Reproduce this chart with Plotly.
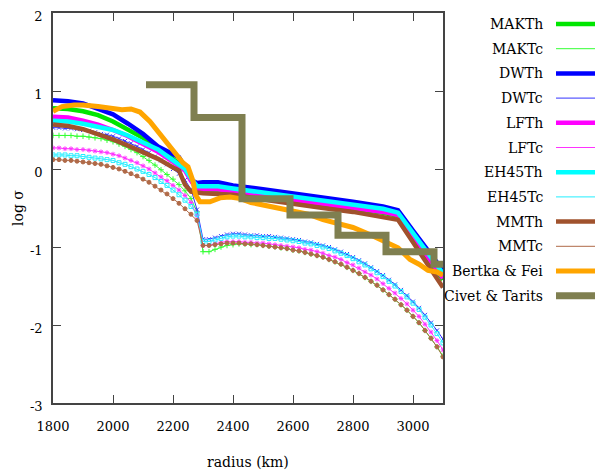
import plotly.graph_objects as go

# ---------------- data ----------------
R_TC = [1800, 1820, 1840, 1860, 1880, 1900, 1920, 1940, 1960, 1980,
        2000, 2020, 2040, 2060, 2080, 2100, 2120, 2140, 2160, 2180,
        2200, 2220, 2240, 2260, 2280, 2300, 2320, 2340, 2360, 2380,
        2400, 2420, 2440, 2460, 2480, 2500, 2520, 2540, 2560, 2580,
        2600, 2620, 2640, 2660, 2680, 2700, 2720, 2740, 2760, 2780,
        2800, 2820, 2840, 2860, 2880, 2900, 2920, 2940, 2960, 2980,
        3000, 3020, 3040, 3060, 3080, 3100]

DWTc = [0.53, 0.53, 0.52, 0.52, 0.51, 0.50, 0.49, 0.47, 0.45, 0.44,
        0.42, 0.39, 0.36, 0.33, 0.29, 0.25, 0.21, 0.16, 0.11, 0.06,
        0.00, -0.06, -0.14, -0.26, -0.52, -0.90, -0.90, -0.88, -0.86, -0.84,
        -0.83, -0.83, -0.84, -0.85, -0.85, -0.86, -0.86, -0.87, -0.88, -0.89,
        -0.90, -0.91, -0.93, -0.94, -0.96, -0.98, -1.00, -1.03, -1.06, -1.09,
        -1.13, -1.17, -1.21, -1.26, -1.31, -1.36, -1.42, -1.48, -1.55, -1.62,
        -1.70, -1.78, -1.87, -1.97, -2.07, -2.18]

EH45Tc = [0.18, 0.18, 0.18, 0.17, 0.17, 0.16, 0.15, 0.14, 0.13, 0.12,
          0.11, 0.08, 0.06, 0.03, 0.00, -0.03, -0.07, -0.11, -0.16, -0.21,
          -0.27, -0.33, -0.40, -0.48, -0.58, -0.93, -0.93, -0.91, -0.89, -0.87,
          -0.86, -0.86, -0.87, -0.87, -0.88, -0.88, -0.89, -0.89, -0.90, -0.91,
          -0.92, -0.93, -0.95, -0.96, -0.98, -1.00, -1.02, -1.05, -1.08, -1.11,
          -1.15, -1.19, -1.23, -1.28, -1.33, -1.38, -1.44, -1.50, -1.57, -1.64,
          -1.72, -1.80, -1.90, -2.00, -2.11, -2.23]

LFTc = [0.27, 0.27, 0.26, 0.26, 0.25, 0.25, 0.24, 0.23, 0.22, 0.21,
        0.19, 0.17, 0.14, 0.11, 0.08, 0.04, 0.00, -0.05, -0.10, -0.15,
        -0.21, -0.27, -0.34, -0.43, -0.60, -0.98, -0.98, -0.96, -0.94, -0.93,
        -0.93, -0.93, -0.94, -0.94, -0.95, -0.95, -0.96, -0.97, -0.98, -0.99,
        -1.00, -1.01, -1.03, -1.04, -1.06, -1.08, -1.11, -1.13, -1.16, -1.20,
        -1.23, -1.27, -1.32, -1.36, -1.41, -1.47, -1.53, -1.59, -1.66, -1.73,
        -1.81, -1.89, -1.99, -2.09, -2.20, -2.32]

MAKTc = [0.43, 0.43, 0.43, 0.43, 0.42, 0.42, 0.41, 0.40, 0.39, 0.37,
         0.35, 0.32, 0.29, 0.25, 0.21, 0.16, 0.11, 0.05, -0.01, -0.07,
         -0.13, -0.20, -0.28, -0.38, -0.55, -1.06, -1.06, -1.03, -1.00, -0.98,
         -0.97, -0.96, -0.96, -0.97, -0.97, -0.98, -0.99, -1.00, -1.01, -1.02,
         -1.04, -1.05, -1.07, -1.09, -1.11, -1.13, -1.16, -1.19, -1.22, -1.26,
         -1.30, -1.34, -1.39, -1.44, -1.49, -1.55, -1.61, -1.67, -1.74, -1.81,
         -1.89, -1.97, -2.07, -2.17, -2.28, -2.40]

MMTc = [0.12, 0.12, 0.11, 0.11, 0.10, 0.09, 0.08, 0.07, 0.06, 0.04,
        0.02, 0.00, -0.03, -0.06, -0.09, -0.13, -0.17, -0.22, -0.27, -0.32,
        -0.38, -0.44, -0.51, -0.58, -0.66, -0.98, -0.98, -0.97, -0.96, -0.95,
        -0.95, -0.95, -0.96, -0.96, -0.97, -0.98, -0.99, -1.00, -1.01, -1.02,
        -1.04, -1.05, -1.07, -1.09, -1.11, -1.13, -1.16, -1.19, -1.22, -1.26,
        -1.30, -1.34, -1.39, -1.44, -1.49, -1.55, -1.61, -1.67, -1.74, -1.81,
        -1.89, -1.97, -2.07, -2.17, -2.28, -2.41]

R_TH = [1800, 1850, 1900, 1950, 2000, 2050, 2100, 2150, 2200, 2220,
        2240, 2260, 2280, 2300, 2350, 2400, 2500, 2600, 2700, 2800,
        2900, 2950, 3000, 3050, 3100]

MAKTh = [0.78, 0.77, 0.74, 0.69, 0.61, 0.51, 0.40, 0.27, 0.13, 0.07,
         0.01, -0.13, -0.27, -0.27, -0.27, -0.30, -0.35, -0.41, -0.46, -0.51,
         -0.56, -0.60, -0.87, -1.14, -1.42]
DWTh = [0.88, 0.87, 0.84, 0.77, 0.70, 0.58, 0.45, 0.29, 0.19, 0.15,
        0.02, -0.14, -0.18, -0.17, -0.17, -0.21, -0.26, -0.31, -0.37, -0.42,
        -0.48, -0.53, -0.79, -1.04, -1.30]
LFTh = [0.67, 0.66, 0.62, 0.57, 0.50, 0.42, 0.32, 0.22, 0.09, 0.04,
        -0.02, -0.15, -0.26, -0.26, -0.26, -0.29, -0.34, -0.40, -0.45, -0.50,
        -0.55, -0.59, -0.86, -1.13, -1.40]
EH45Th = [0.62, 0.61, 0.58, 0.54, 0.50, 0.43, 0.34, 0.25, 0.11, 0.05,
          0.00, -0.12, -0.22, -0.22, -0.22, -0.25, -0.30, -0.35, -0.40, -0.46,
          -0.51, -0.56, -0.82, -1.08, -1.34]
MMTh = [0.57, 0.55, 0.51, 0.45, 0.38, 0.30, 0.22, 0.13, 0.02, -0.02,
        -0.20, -0.29, -0.30, -0.31, -0.32, -0.33, -0.39, -0.45, -0.50, -0.55,
        -0.61, -0.65, -0.94, -1.23, -1.52]

R_BF = [1800, 1830, 1870, 1900, 1950, 2000, 2030, 2060, 2090, 2123,
        2157, 2190, 2233, 2250, 2267, 2275, 2290, 2323, 2357, 2390,
        2425, 2460, 2500, 2550, 2600, 2650, 2700, 2750, 2800, 2850,
        2900, 2950, 2990, 3020, 3050, 3080, 3100]
BertkaFei = [0.74, 0.80, 0.82, 0.82, 0.80, 0.77, 0.76, 0.77, 0.73, 0.61,
             0.44, 0.27, 0.08, 0.03, -0.16, -0.33, -0.42, -0.42, -0.37, -0.36,
             -0.38, -0.43, -0.46, -0.49, -0.54, -0.58, -0.65, -0.70, -0.75, -0.83,
             -0.92, -1.01, -1.16, -1.22, -1.30, -1.32, -1.36]

R_CT = [2110, 2270, 2430, 2590, 2750, 2910, 3070, 3100]
CivetTarits = [1.08, 0.66, -0.38, -0.59, -0.85, -1.06, -1.22, -1.22]

X_TICKS = [1800, 2000, 2200, 2400, 2600, 2800, 3000]
Y_TICKS = [-3, -2, -1, 0, 1, 2]

LEGEND_NAMES = ["MAKTh", "MAKTc", "DWTh", "DWTc", "LFTh", "LFTc",
                "EH45Th", "EH45Tc", "MMTh", "MMTc", "Bertka & Fei", "Civet & Tarits"]

# ---------------- styles ----------------
GREEN = "#00e600"
GREEN_T = "#33ff33"
BLUE = "#0000ff"
BLUE_T = "#3333ff"
MAG = "#ff00ff"
MAG_T = "#ff33ff"
CYAN = "#00ffff"
CYAN_T = "#22eeff"
BROWN = "#a0522d"
BROWN_T = "#b06a48"
ORANGE = "#ffa500"
OLIVE = "#7f7f50"
FONT = "DejaVu Serif"

W, H = 603, 475
OFF = 8                      # page offset of the figure inside the browser window
# wanted plot area on screen: x 53..443, y 13..403
ML, MT = 53 - OFF, 13 - OFF
PW, PH = 390, 390
MR, MB = W - ML - PW, H - MT - PH

def px_x(p):   # screen pixel -> paper x
    return (p - OFF - ML) / PW

def px_y(p):   # screen pixel (from top) -> paper y
    return (MT + PH - (p - OFF)) / PH

styles = {
    "MAKTh": dict(color=GREEN, width=4.5, symbol=None),
    "MAKTc": dict(color=GREEN_T, width=1, symbol="cross-thin"),
    "DWTh": dict(color=BLUE, width=4.5, symbol=None),
    "DWTc": dict(color=BLUE_T, width=1, symbol="x-thin"),
    "LFTh": dict(color=MAG, width=4.5, symbol=None),
    "LFTc": dict(color=MAG_T, width=1, symbol="asterisk"),
    "EH45Th": dict(color=CYAN, width=4.5, symbol=None),
    "EH45Tc": dict(color=CYAN_T, width=1, symbol="square-open"),
    "MMTh": dict(color=BROWN, width=4.5, symbol=None),
    "MMTc": dict(color=BROWN_T, width=1, symbol="circle"),
    "Bertka & Fei": dict(color=ORANGE, width=5, symbol=None),
    "Civet & Tarits": dict(color=OLIVE, width=7, symbol=None),
}

series = [
    ("MAKTh", R_TH, MAKTh), ("MAKTc", R_TC, MAKTc),
    ("DWTh", R_TH, DWTh), ("DWTc", R_TC, DWTc),
    ("LFTh", R_TH, LFTh), ("LFTc", R_TC, LFTc),
    ("EH45Th", R_TH, EH45Th), ("EH45Tc", R_TC, EH45Tc),
    ("MMTh", R_TH, MMTh), ("MMTc", R_TC, MMTc),
    ("Bertka & Fei", R_BF, BertkaFei),
]

fig = go.Figure()

for name, xs, ys in series:
    st = styles[name]
    if st["symbol"] is None:
        fig.add_trace(go.Scatter(x=xs, y=ys, mode="lines", name=name,
                                 line=dict(color=st["color"], width=st["width"]),
                                 showlegend=False))
    else:
        fig.add_trace(go.Scatter(x=xs, y=ys, mode="lines+markers", name=name,
                                 line=dict(color=st["color"], width=st["width"]),
                                 marker=dict(symbol=st["symbol"], size=4,
                                             color=st["color"],
                                             line=dict(color=st["color"], width=1)),
                                 showlegend=False))

# Civet & Tarits step profile
fig.add_trace(go.Scatter(x=R_CT, y=CivetTarits, mode="lines", name="Civet & Tarits",
                         line=dict(color=OLIVE, width=7, shape="hv"), showlegend=False))

# ---------------- gnuplot-style legend: text left, sample right ----------------
row0, drow = 24, 24.7
text_right, line_x0, line_x1, mark_x = 545, 556, 615, 579
annotations, shapes = [], []
XR = [1800, 3100]
YR = [-3, 2]
for i, name in enumerate(LEGEND_NAMES):
    yy = row0 + i * drow
    st = styles[name]
    shapes.append(dict(type="line", xref="paper", yref="paper",
                       x0=px_x(line_x0), x1=px_x(line_x1), y0=px_y(yy), y1=px_y(yy),
                       line=dict(color=st["color"], width=st["width"])))
    if st["symbol"] is not None:
        mx = XR[0] + px_x(mark_x) * (XR[1] - XR[0])
        my = YR[0] + px_y(yy) * (YR[1] - YR[0])
        fig.add_trace(go.Scatter(x=[mx], y=[my], mode="markers", cliponaxis=False,
                                 marker=dict(symbol=st["symbol"], size=5, color=st["color"],
                                             line=dict(color=st["color"], width=1)),
                                 showlegend=False, hoverinfo="skip"))
    annotations.append(dict(x=px_x(text_right), y=px_y(yy), xref="paper", yref="paper",
                            text=name, showarrow=False, xanchor="right", yanchor="middle",
                            font=dict(family=FONT, size=14, color="black")))

# axis titles
annotations.append(dict(x=0.5, y=px_y(462), xref="paper", yref="paper", text="radius (km)",
                        showarrow=False, xanchor="center", yanchor="middle",
                        font=dict(family=FONT, size=14, color="black")))
annotations.append(dict(x=px_x(18), y=0.5, xref="paper", yref="paper", text="log σ",
                        showarrow=False, xanchor="center", yanchor="middle", textangle=-90,
                        font=dict(family=FONT, size=14, color="black")))

axis_common = dict(showgrid=False, zeroline=False, ticks="inside", ticklen=8,
                   tickwidth=1.2, tickcolor="#444444", showline=True, linecolor="#444444",
                   linewidth=1.5, mirror="ticks", automargin=False,
                   ticklabeloverflow="allow",
                   tickfont=dict(family=FONT, size=13, color="black"))

fig.update_layout(
    width=W, height=H,
    margin=dict(l=ML, r=MR, t=MT, b=MB, pad=0, autoexpand=False),
    paper_bgcolor="white", plot_bgcolor="white",
    showlegend=False,
    xaxis=dict(range=XR, tickvals=X_TICKS, ticktext=[str(v) for v in X_TICKS],
               ticklabelstandoff=11, **axis_common),
    yaxis=dict(range=YR, tickvals=Y_TICKS, ticktext=[str(v) for v in Y_TICKS],
               ticklabelstandoff=6, ticklabelshift=3, **axis_common),
    annotations=annotations,
    shapes=shapes,
    font=dict(family=FONT),
)

fig.write_html("out.html")
